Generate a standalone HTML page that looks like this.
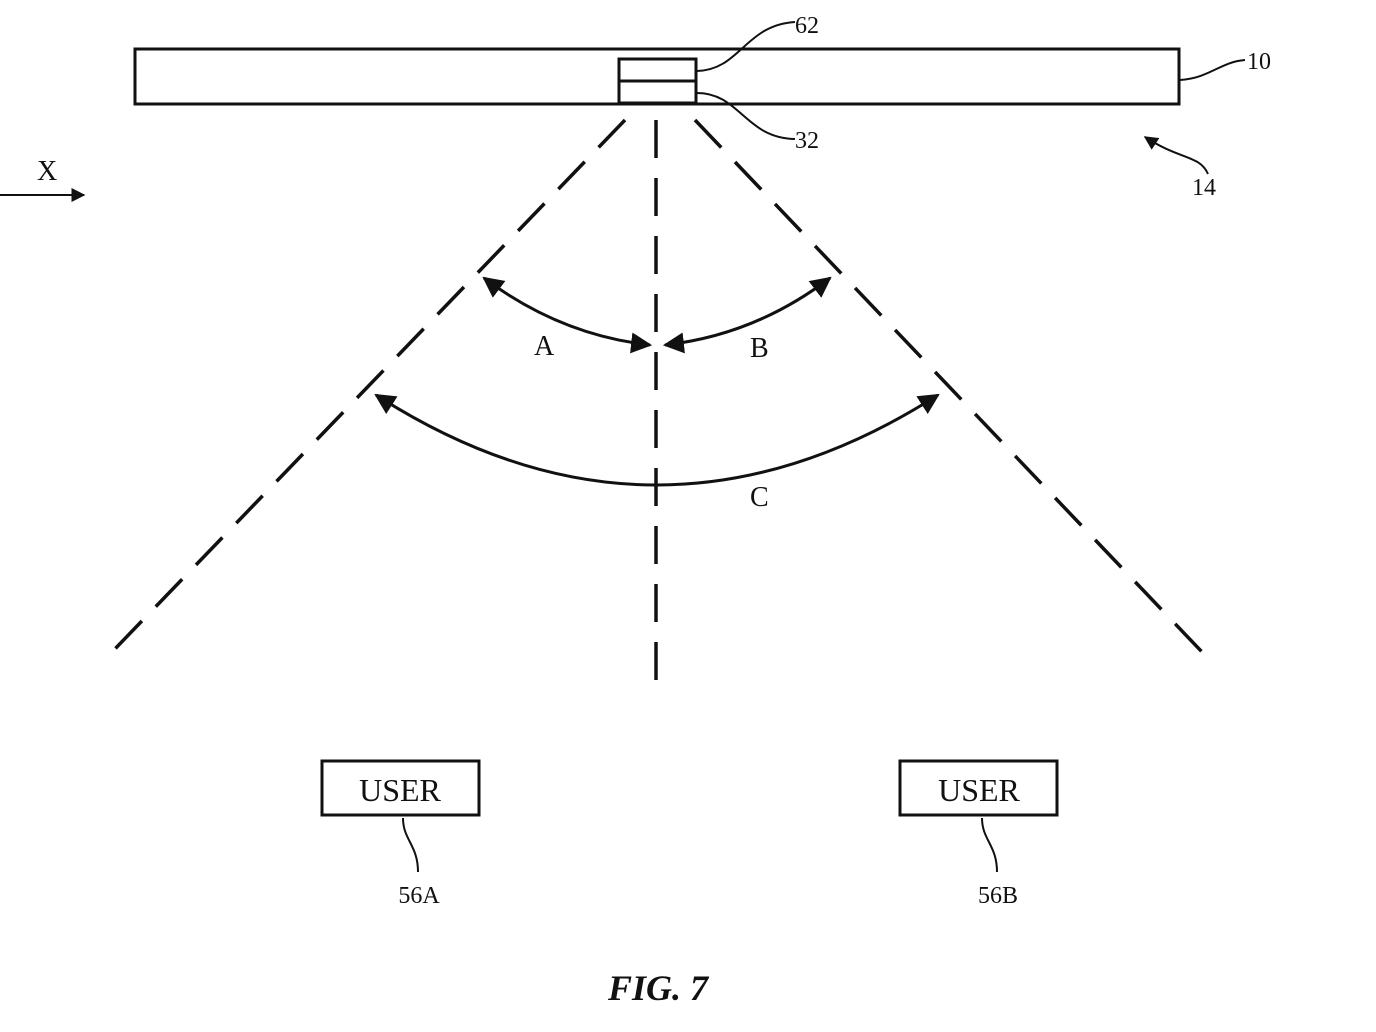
<!DOCTYPE html>
<html><head><style>body{margin:0;background:#fff}svg{display:block}</style></head>
<body>
<svg width="1376" height="1032" viewBox="0 0 1376 1032" xmlns="http://www.w3.org/2000/svg">
<defs>
<marker id="ar" viewBox="0 0 10 10" refX="9" refY="5" markerWidth="7" markerHeight="7" orient="auto-start-reverse"><path d="M0,0 L10,5 L0,10 z" fill="#111"/></marker>
</defs>
<g fill="none" stroke="#111" stroke-width="3">
<rect x="135" y="49" width="1044" height="55"/>
<rect x="619" y="59" width="77" height="44"/>
<line x1="619" y1="81" x2="696" y2="81"/>
</g>
<g fill="none" stroke="#111" stroke-width="2">
<path d="M697,71 C740,70 745,25 795,22"/>
<path d="M697,93 C740,93 745,138 795,139"/>
<path d="M1180,80 C1210,78 1220,62 1245,60"/>
<path d="M1208,174 C1200,155 1180,160 1145,137" marker-end="url(#ar)"/>
<path d="M0,195 L84,195" marker-end="url(#ar)"/>
<path d="M403,818 C403,840 418,845 418,872"/>
<path d="M982,818 C982,840 997,845 997,872"/>
</g>
<g fill="none" stroke="#111" stroke-width="3.5" stroke-dasharray="38,20">
<line x1="625" y1="120" x2="112" y2="652"/>
<line x1="695" y1="120" x2="1202" y2="652"/>
<line x1="656" y1="120" x2="656" y2="700"/>
</g>
<g fill="none" stroke="#111" stroke-width="3">
<path d="M484,278 Q560,335 650,345" marker-start="url(#ar)" marker-end="url(#ar)"/>
<path d="M665,345 Q755,335 830,278" marker-start="url(#ar)" marker-end="url(#ar)"/>
<path d="M376,395 Q656,575 938,395" marker-start="url(#ar)" marker-end="url(#ar)"/>
<rect x="322" y="761" width="157" height="54"/>
<rect x="900" y="761" width="157" height="54"/>
</g>
<g font-family="Liberation Serif, serif" fill="#111">
<text x="795" y="33" font-size="24">62</text>
<text x="795" y="148" font-size="24">32</text>
<text x="1247" y="69" font-size="24">10</text>
<text x="1192" y="195" font-size="24">14</text>
<text x="37" y="180" font-size="28">X</text>
<text x="534" y="355" font-size="28">A</text>
<text x="750" y="357" font-size="28">B</text>
<text x="750" y="506" font-size="28">C</text>
<text x="400" y="801" font-size="32" text-anchor="middle">USER</text>
<text x="979" y="801" font-size="32" text-anchor="middle">USER</text>
<text x="419" y="903" font-size="24" text-anchor="middle">56A</text>
<text x="998" y="903" font-size="24" text-anchor="middle">56B</text>
<text x="658" y="1000" font-size="36" font-weight="bold" font-style="italic" text-anchor="middle">FIG. 7</text>
</g>
</svg>
</body></html>
